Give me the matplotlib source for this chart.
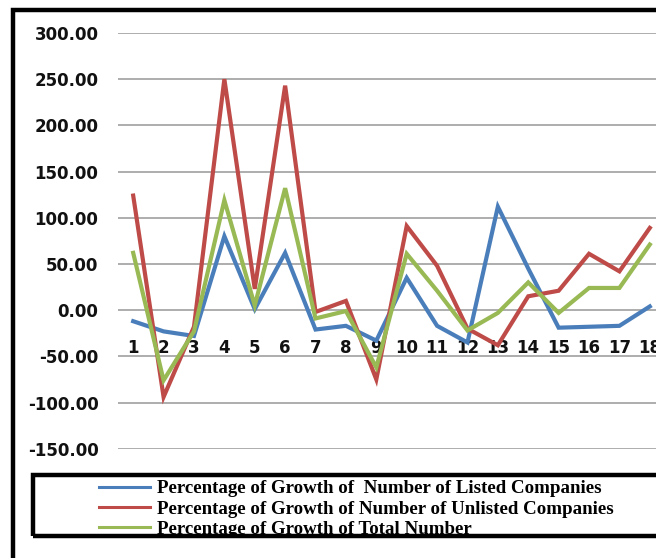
import matplotlib.pyplot as plt
from matplotlib.patches import Rectangle

# growth rates (%) per period
periods = [str(i) for i in range(1, 19)]
listed = [-12, -23, -28, 80, 1, 62, -21, -17, -33, 35, -17, -35, 112, 45, -19, -18, -17, 4]
unlisted = [124, -94, -18, 250, 23, 243, -2, 10, -75, 91, 48, -20, -38, 15, 21, 61, 42, 89]
total = [62, -76, -23, 119, 5, 132, -9, -1, -62, 61, 21, -22, -3, 30, -3, 24, 24, 71]

series_names = ["Percentage of Growth of  Number of Listed Companies",
                "Percentage of Growth of Number of Unlisted Companies",
                "Percentage of Growth of Total Number"]
colors = ["#4a7ebb", "#be4b48", "#98b954"]
yticks = [-150, -100, -50, 0, 50, 100, 150, 200, 250, 300]

W, H = 656, 558
fig = plt.figure(figsize=(W / 100, H / 100), dpi=100)

# plot area runs a little past the right edge of the figure
left, right = 118, 665
top, bottom = 33, 448.7
ax = fig.add_axes([left / W, (H - bottom) / H, (right - left) / W, (bottom - top) / H])

x = list(range(1, len(periods) + 1))
lines = []
for vals, c in zip([listed, unlisted, total], colors):
    ln, = ax.plot(x, vals, color=c, lw=3, solid_joinstyle="miter", zorder=3)
    lines.append(ln)

ax.set_xlim(0.5, len(periods) + 0.5)
ax.set_ylim(-150, 300)
ax.set_yticks(yticks)
ax.set_yticklabels([f"{v:.2f}" for v in yticks])
ax.yaxis.grid(True, color="#a0a0a0", lw=1.2)
ax.set_axisbelow(True)

# category axis sits at zero
ax.spines["bottom"].set_position(("data", 0))
for s in ax.spines.values():
    s.set_visible(False)
ax.set_xticks(x)
ax.set_xticklabels(periods)
ax.tick_params(axis="x", length=0, pad=21)
ax.tick_params(axis="y", length=0, pad=14)
for lab in ax.get_xticklabels() + ax.get_yticklabels():
    lab.set_fontsize(12)
    lab.set_fontweight("bold")
    lab.set_color("#111111")

# chart border
fig.patches.append(Rectangle((12.5 / W, -0.2), 1.2, 1.2 - 9.5 / H, transform=fig.transFigure,
                             fill=False, ec="black", lw=3.2, zorder=10))

# legend box
fig.patches.append(Rectangle((33 / W, (H - 536) / H), (670 - 33) / W, 61 / H,
                             transform=fig.transFigure, fill=False, ec="black", lw=3.2, zorder=10))
leg = fig.legend(lines, series_names, loc="center", bbox_to_anchor=(356.5 / W, (H - 509) / H),
                 frameon=False, handlelength=2.7, handletextpad=0.35, labelspacing=0.17,
                 borderpad=0, prop={"family": "Liberation Serif", "weight": "bold", "size": 13.6})
for hl in leg.get_lines():
    hl.set_linewidth(2.2)

fig.savefig("out.png", dpi=100)
